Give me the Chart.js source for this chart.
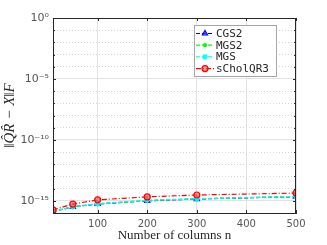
<!DOCTYPE html>
<html lang="en">
<head>
<meta charset="UTF-8">
<title>Orthogonality error</title>
<style>
  html, body { margin: 0; padding: 0; background: #fff; }
</style>
</head>
<body>
<canvas id="myChart" width="327" height="245"></canvas>
<script src="https://cdn.jsdelivr.net/npm/chart.js"></script>
<script>
// values
const columns = [10, 50, 100, 200, 300, 500];
const cgs2 = [1.3e-16, 3.2e-16, 5.5e-16, 1.0e-15, 1.4e-15, 2.2e-15];
const mgs2 = [1.3e-16, 3.3e-16, 5.6e-16, 1.05e-15, 1.45e-15, 2.25e-15];
const mgs = [1.4e-16, 3.3e-16, 5.8e-16, 1.1e-15, 1.5e-15, 2.3e-15];
const scholqr3 = [1.8e-16, 5.4e-16, 1.2e-15, 2.1e-15, 3.0e-15, 4.3e-15];

const xTicks = [100, 200, 300, 400, 500];
const yTickValues = [1, 1e-5, 1e-10, 1e-15];
const yTickLabels = ['10⁰', '10⁻⁵', '10⁻¹⁰', '10⁻¹⁵'];

const axisColor = '#262626';
const gridColor = '#e2e2e2';

function isMajor(v) {
    return yTickValues.some(t => Math.abs(Math.log10(v) - Math.log10(t)) < 1e-6);
}

// box round the plot + inward ticks like matlab
const boxPlugin = {
    id: 'box',
    afterDatasetsDraw(chart) {
        const { ctx, chartArea: a, scales } = chart;
        ctx.save();
        ctx.strokeStyle = axisColor;
        ctx.lineWidth = 1;
        ctx.strokeRect(a.left + 0.5, a.top + 0.5, a.right - a.left - 1, a.bottom - a.top);
        ctx.beginPath();
        xTicks.forEach(v => {
            const x = Math.round(scales.x.getPixelForValue(v)) + 0.5;
            ctx.moveTo(x, a.bottom); ctx.lineTo(x, a.bottom - 3);
            ctx.moveTo(x, a.top); ctx.lineTo(x, a.top + 3);
        });
        scales.y.ticks.forEach(t => {
            const y = Math.round(scales.y.getPixelForValue(t.value)) + 0.5;
            const len = isMajor(t.value) ? 3 : 2;
            ctx.moveTo(a.left, y); ctx.lineTo(a.left + len, y);
            ctx.moveTo(a.right, y); ctx.lineTo(a.right - len, y);
        });
        ctx.stroke();
        ctx.restore();
    }
};

// legend inside the axes, top right
const legendPlugin = {
    id: 'insideLegend',
    afterDraw(chart) {
        const { ctx, chartArea: a } = chart;
        const w = 82, h = 51;
        const x0 = a.right - 20 - w, y0 = a.top + 7;
        ctx.save();
        ctx.fillStyle = '#fff';
        ctx.fillRect(x0, y0, w, h);
        ctx.strokeStyle = '#a6a6a6';
        ctx.lineWidth = 1;
        ctx.strokeRect(x0 + 0.5, y0 + 0.5, w, h);
        ctx.font = '11px "DejaVu Sans Mono"';
        ctx.textBaseline = 'middle';
        chart.data.datasets.forEach((ds, i) => {
            const y = y0 + 8.5 + i * 11.7;
            ctx.strokeStyle = ds.borderColor;
            ctx.lineWidth = ds.borderWidth;
            ctx.setLineDash(ds.borderDash);
            ctx.beginPath();
            ctx.moveTo(x0 + 2, y);
            ctx.lineTo(x0 + 20, y);
            ctx.stroke();
            ctx.setLineDash([]);
            ctx.fillStyle = ds.pointBackgroundColor;
            ctx.strokeStyle = ds.borderColor;
            Chart.helpers.drawPoint(ctx, {
                pointStyle: ds.pointStyle,
                radius: ds.pointRadius,
                borderWidth: 1,
                rotation: 0
            }, x0 + 11, y);
            ctx.fillStyle = axisColor;
            ctx.fillText(ds.label, x0 + 22, y + 0.5);
        });
        ctx.restore();
    }
};

const ctx = document.getElementById('myChart');
const chart = new Chart(ctx, {
    type: 'line',
    data: {
        datasets: [{
            label: 'CGS2',
            data: columns.map((c, i) => ({ x: c, y: cgs2[i] })),
            borderColor: '#0000ff',
            borderWidth: 1.2,
            borderDash: [4, 2],
            pointStyle: 'triangle',
            pointRadius: 3,
            pointBackgroundColor: 'rgba(80,80,255,0.6)',
            pointBorderColor: '#0000ff',
            order: 4
        }, {
            label: 'MGS2',
            data: columns.map((c, i) => ({ x: c, y: mgs2[i] })),
            borderColor: '#00ff00',
            borderWidth: 1.2,
            borderDash: [4, 2],
            pointStyle: 'circle',
            pointRadius: 1.5,
            pointBackgroundColor: '#00ff00',
            pointBorderColor: '#00ff00',
            order: 3
        }, {
            label: 'MGS',
            data: columns.map((c, i) => ({ x: c, y: mgs[i] })),
            borderColor: '#00ffff',
            borderWidth: 1.2,
            borderDash: [4, 2],
            pointStyle: 'star',
            pointRadius: 3,
            pointBackgroundColor: '#00ffff',
            pointBorderColor: '#00ffff',
            order: 2
        }, {
            label: 'sCholQR3',
            data: columns.map((c, i) => ({ x: c, y: scholqr3[i] })),
            borderColor: '#ff0000',
            borderWidth: 1.2,
            borderDash: [5, 2, 1, 2],
            pointStyle: 'circle',
            pointRadius: 3,
            pointBackgroundColor: 'rgba(255,80,80,0.6)',
            pointBorderColor: '#ff0000',
            order: 1
        }]
    },
    options: {
        responsive: false,
        animation: false,
        layout: { padding: { left: 0, top: 18, right: 31, bottom: 0 } },
        plugins: {
            legend: { display: false },
            tooltip: { enabled: false }
        },
        scales: {
            x: {
                type: 'linear',
                min: 10,
                max: 500,
                afterBuildTicks: s => { s.ticks = xTicks.map(v => ({ value: v })); },
                afterFit: s => { s.height = 32; },
                grid: { color: gridColor, drawTicks: false },
                border: { color: axisColor },
                ticks: {
                    color: '#555',
                    font: { family: 'DejaVu Sans', size: 10 },
                    padding: 5,
                    maxRotation: 0
                },
                title: {
                    display: true,
                    text: 'Number of columns n',
                    color: axisColor,
                    font: { family: 'Liberation Serif', size: 13 },
                    padding: { top: 0, bottom: 2 }
                }
            },
            y: {
                type: 'logarithmic',
                min: 1e-16,
                max: 1,
                afterBuildTicks: s => {
                    const t = [];
                    for (let e = -16; e <= 0; e++) t.push({ value: Math.pow(10, e) });
                    s.ticks = t;
                },
                afterFit: s => { s.width = 53; },
                grid: {
                    color: c => isMajor(c.tick.value) ? gridColor : '#d4d4d4',
                    drawTicks: false
                },
                border: {
                    color: axisColor,
                    dash: c => (c.tick && !isMajor(c.tick.value)) ? [1, 2] : []
                },
                ticks: {
                    color: '#555',
                    font: { family: 'DejaVu Sans', size: 11 },
                    padding: 4,
                    autoSkip: false,
                    callback: v => {
                        const k = yTickValues.findIndex(t => Math.abs(Math.log10(v) - Math.log10(t)) < 1e-6);
                        return k >= 0 ? yTickLabels[k] : '';
                    }
                },
                title: {
                    display: true,
                    text: '‖Q̂R̂ − X‖F',
                    color: axisColor,
                    font: { family: 'Liberation Serif', size: 15, style: 'italic' },
                    padding: { top: 1, bottom: 0 }
                }
            }
        }
    },
    plugins: [boxPlugin, legendPlugin]
});
</script>
</body>
</html>
